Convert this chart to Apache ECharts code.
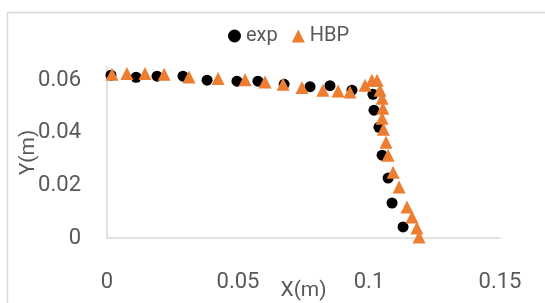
<!DOCTYPE html>
<html><head><meta charset="utf-8">
<script src="https://cdn.jsdelivr.net/npm/echarts@6/dist/echarts.min.js"></script>
<style>html,body{margin:0;padding:0;background:#fff}#c{width:545px;height:303px}</style>
</head><body><div id="c"></div>
<script>
var expX = [0.0015,0.0111,0.0191,0.0290,0.0382,0.0496,0.0576,0.0676,0.0775,0.0851,0.0935,0.1015,0.1019,0.1038,0.1050,0.1073,0.1088,0.1130];
var expY = [0.0619,0.0611,0.0615,0.0615,0.0600,0.0596,0.0596,0.0584,0.0575,0.0579,0.0562,0.0546,0.0486,0.0421,0.0315,0.0228,0.0133,0.0042];
var hbpX = [0.0019,0.0076,0.0145,0.0218,0.0313,0.0424,0.0527,0.0603,0.0672,0.0744,0.0824,0.0882,0.0927,0.0985,0.1011,0.1031,0.1042,0.1050,0.1053,0.1050,0.1055,0.1065,0.1073,0.1092,0.1115,0.1145,0.1164,0.1183,0.1191];
var hbpY = [0.0622,0.0625,0.0625,0.0622,0.0612,0.0606,0.0602,0.0593,0.0584,0.0572,0.0562,0.0559,0.0555,0.0581,0.0600,0.0600,0.0562,0.0531,0.0493,0.0455,0.0413,0.0364,0.0315,0.0250,0.0194,0.0118,0.0080,0.0038,0.0004];
var seriesNames = ['exp','HBP'];

function pairs(xs, ys){ return xs.map(function(x,i){ return [x, ys[i]]; }); }

var font = 'Roboto';
var chart = echarts.init(document.getElementById('c'));
chart.setOption({
  animation:false,
  textStyle:{fontFamily:font},
  graphic:[{type:'rect', shape:{x:7.5,y:12.5,width:700,height:500}, style:{fill:'none',stroke:'#d9d9d9',lineWidth:1.5}, z:-10}],
  legend:{
    left:223, top:21, itemGap:14, itemWidth:13, itemHeight:13,
    textStyle:{color:'#595959', fontSize:20, fontFamily:font},
    data:[{name:seriesNames[0], icon:'circle'},{name:seriesNames[1], icon:'triangle'}]
  },
  grid:{left:107, right:45, top:67, bottom:65, containLabel:false, outerBoundsMode:'none'},
  xAxis:{
    type:'value', min:0, max:0.15, interval:0.05,
    name:'X(m)', nameLocation:'middle', nameGap:42, nameMoveOverlap:false,
    nameTextStyle:{color:'#595959', fontSize:21, fontFamily:font},
    axisLine:{show:true, lineStyle:{color:'#d9d9d9', width:1.5}},
    axisTick:{show:false}, splitLine:{show:false},
    axisLabel:{color:'#595959', fontSize:22, margin:33, fontFamily:font}
  },
  yAxis:{
    type:'value', min:0, max:0.065, interval:0.02,
    name:'Y(m)', nameLocation:'middle', nameGap:68, nameRotate:90, nameMoveOverlap:false,
    nameTextStyle:{color:'#595959', fontSize:21, fontFamily:font},
    axisLine:{show:true, lineStyle:{color:'#d9d9d9', width:1.5}},
    axisTick:{show:false}, splitLine:{show:false},
    axisLabel:{color:'#595959', fontSize:22, margin:26, fontFamily:font, showMaxLabel:false}
  },
  series:[
    {name:seriesNames[0], type:'scatter', symbol:'circle', symbolSize:11, clip:false,
     itemStyle:{color:'#000000', opacity:1}, data:pairs(expX, expY)},
    {name:seriesNames[1], type:'scatter', symbol:'triangle', symbolSize:13, clip:false,
     itemStyle:{color:'#ED7D31', opacity:1}, data:pairs(hbpX, hbpY)}
  ]
});
</script></body></html>
